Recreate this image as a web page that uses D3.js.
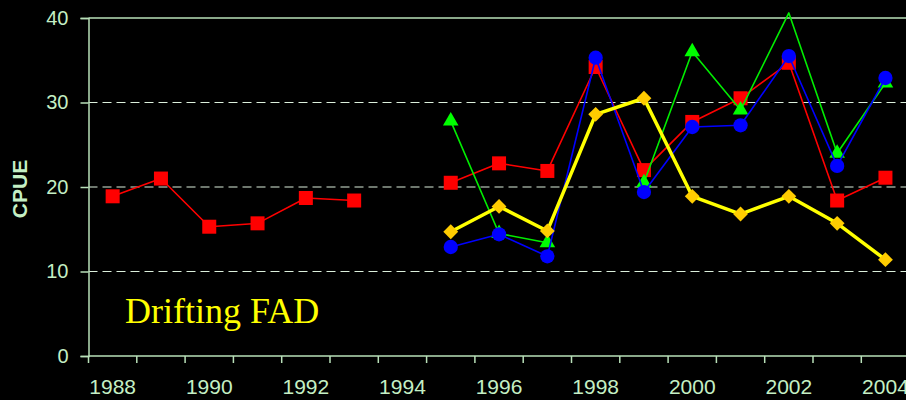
<!DOCTYPE html>
<html>
<head>
<meta charset="utf-8">
<script src="https://cdn.jsdelivr.net/npm/d3@7"></script>
<style>
  body { margin: 0; background: #000; }
  svg { display: block; }
</style>
</head>
<body>
<div id="chart"></div>
<script>
var w = 906, h = 400;
var years = [1988, 1989, 1990, 1991, 1992, 1993, 1994, 1995, 1996, 1997, 1998, 1999, 2000, 2001, 2002, 2003, 2004];
var yearLabels = [1988, 1990, 1992, 1994, 1996, 1998, 2000, 2002, 2004];
var yTicks = [0, 10, 20, 30, 40];
// null = no value that year
var redVals = [18.9, 21.0, 15.3, 15.7, 18.7, 18.4, null, 20.5, 22.8, 21.9, 34.2, 22.0, 27.7, 30.5, 34.7, 18.4, 21.1];
var greenVals = [null, null, null, null, null, null, null, 27.8, 14.5, 13.4, null, 20.5, 36.0, 29.1, 40.6, 24.0, 32.3];
var blueVals = [null, null, null, null, null, null, null, 12.9, 14.4, 11.8, 35.3, 19.4, 27.1, 27.3, 35.5, 22.5, 32.9];
var yellowVals = [null, null, null, null, null, null, null, 14.7, 17.7, 14.8, 28.6, 30.5, 18.9, 16.8, 18.9, 15.7, 11.4];

var mLeft = 88.5, mTop = 18, mBottom = 356, step = 48.3;
var txt = "#c4efc4", axisCol = "#b8e0b8", gridCol = "#dcefdc";

var svg = d3.select("#chart").append("svg")
    .attr("width", w)
    .attr("height", h)
    .style("background", "#000");

var x = d3.scaleBand()
    .domain(years)
    .range([mLeft, mLeft + step * years.length])
    .padding(0);
var y = d3.scaleLinear()
    .domain([0, 40])
    .range([mBottom, mTop]);
var cx = function(yr) { return x(yr) + x.bandwidth() / 2; };

// grid lines
svg.selectAll("line.grid")
    .data([10, 20, 30])
    .enter()
    .append("line")
    .attr("class", "grid")
    .attr("x1", mLeft).attr("x2", w)
    .attr("y1", function(d) { return y(d); })
    .attr("y2", function(d) { return y(d); })
    .attr("stroke", gridCol)
    .attr("stroke-width", 1)
    .attr("stroke-dasharray", "9,5");

// top border
svg.append("line")
    .attr("x1", mLeft).attr("x2", w)
    .attr("y1", y(40)).attr("y2", y(40))
    .attr("stroke", axisCol).attr("stroke-width", 1.5);

// y axis
var yAxis = svg.append("g")
    .attr("transform", "translate(" + mLeft + ",0)")
    .call(d3.axisLeft(y).tickValues(yTicks).tickSize(8).tickPadding(12));
yAxis.select(".domain").attr("stroke", axisCol).attr("stroke-width", 1.5);
yAxis.selectAll(".tick line").attr("stroke", axisCol).attr("stroke-width", 1.5);
yAxis.selectAll("text")
    .attr("fill", txt)
    .attr("font-family", "Liberation Sans, Arial, sans-serif")
    .attr("font-size", "20px");

// x axis: ticks on category boundaries, labels on every other year
var xAxis = svg.append("g")
    .attr("transform", "translate(0," + mBottom + ")")
    .call(d3.axisBottom(x).tickValues(yearLabels).tickSize(0).tickPadding(23));
xAxis.select(".domain").remove();
xAxis.selectAll("text")
    .attr("fill", txt)
    .attr("font-family", "Liberation Sans, Arial, sans-serif")
    .attr("font-size", "21px");
svg.append("line")
    .attr("x1", mLeft).attr("x2", w)
    .attr("y1", mBottom).attr("y2", mBottom)
    .attr("stroke", axisCol).attr("stroke-width", 1.5);
svg.selectAll("line.xtick")
    .data(years)
    .enter()
    .append("line")
    .attr("class", "xtick")
    .attr("x1", function(d) { return x(d); })
    .attr("x2", function(d) { return x(d); })
    .attr("y1", mBottom).attr("y2", mBottom + 7)
    .attr("stroke", axisCol).attr("stroke-width", 1.5);

// y title
svg.append("text")
    .attr("transform", "translate(27,189) rotate(-90)")
    .attr("text-anchor", "middle")
    .attr("fill", txt)
    .attr("font-family", "Liberation Sans, Arial, sans-serif")
    .attr("font-weight", "bold")
    .attr("font-size", "21px")
    .text("CPUE");

var line = d3.line()
    .defined(function(d) { return d.v != null; })
    .x(function(d) { return cx(d.yr); })
    .y(function(d) { return y(d.v); });

function pts(vals) {
  return years.map(function(yr, i) { return { yr: yr, v: vals[i] }; });
}

var series = [
  { vals: redVals, color: "#ff0000", width: 1.6, shape: d3.symbolSquare, size: 196, rot: 0, fill: "#ff0000" },
  { vals: greenVals, color: "#00ee00", width: 1.6, shape: d3.symbolTriangle, size: 105, rot: 0, fill: "#00ff00" },
  { vals: blueVals, color: "#0000ff", width: 1.6, shape: d3.symbolCircle, size: 160, rot: 0, fill: "#0000ff" },
  { vals: yellowVals, color: "#ffff00", width: 3.5, shape: d3.symbolSquare, size: 110, rot: 45, fill: "#ffcc00" }
];

series.forEach(function(s) {
  var data = pts(s.vals);
  svg.append("path")
    .datum(data)
    .attr("d", line)
    .attr("fill", "none")
    .attr("stroke", s.color)
    .attr("stroke-width", s.width)
    .attr("stroke-linejoin", "round");
  svg.selectAll(null)
    .data(data.filter(function(d) { return d.v != null && d.v <= 40; }))
    .enter()
    .append("path")
    .attr("d", d3.symbol().type(s.shape).size(s.size))
    .attr("transform", function(d) {
      return "translate(" + cx(d.yr) + "," + y(d.v) + ") rotate(" + s.rot + ")";
    })
    .attr("fill", s.fill);
});

svg.append("text")
    .attr("x", 125)
    .attr("y", 323)
    .attr("fill", "#ffff00")
    .attr("font-family", "Liberation Serif, Times New Roman, serif")
    .attr("font-size", "36px")
    .text("Drifting FAD");
</script>
</body>
</html>
